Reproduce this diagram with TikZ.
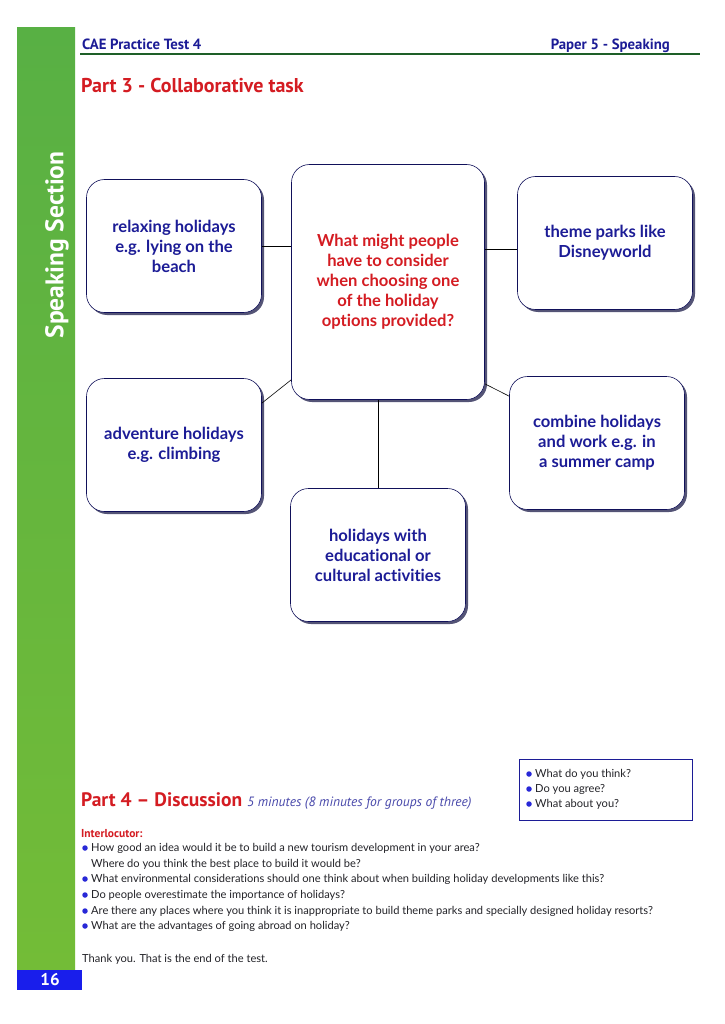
\documentclass[tikz,border=0pt]{standalone}
\usepackage{fontspec}
\setmainfont{Lato}[Ligatures={TeX,NoCommon}]
\newfontfamily\headfont{PT Sans}[Ligatures=TeX]
\usetikzlibrary{positioning, shadows}

\definecolor{boxblue}{RGB}{28,28,150}
\definecolor{taskred}{RGB}{212,28,34}
\definecolor{rulegreen}{RGB}{30,95,40}
\definecolor{numblue}{RGB}{25,30,235}
\definecolor{dotblue}{RGB}{40,40,215}
\definecolor{shadowgray}{RGB}{55,55,95}
\definecolor{bodygray}{RGB}{35,35,40}
\definecolor{sidetop}{RGB}{88,176,68}
\definecolor{sidemid}{RGB}{52,160,40}
\definecolor{sidebottom}{RGB}{115,188,55}

\tikzset{
  optionbox/.style={draw=boxblue!60!black, line width=0.6pt, rounded corners=18pt,
    fill=white, minimum width=175pt, minimum height=133pt, align=center,
    font=\fontsize{16.6}{20}\selectfont\bfseries, text=boxblue,
    drop shadow={shadow xshift=2.5pt, shadow yshift=-2.5pt, fill=shadowgray, opacity=0.85}},
  link/.style={draw=black, line width=0.6pt},
  bodytext/.style={anchor=base west, inner sep=0pt, text=bodygray, font=\fontsize{11.1}{13}\selectfont},
  bulletdot/.style={circle, fill=dotblue, inner sep=0pt, minimum size=5.5pt}
}

\begin{document}
\begin{tikzpicture}[x=1pt, y=-1pt]
  \useasboundingbox[fill=white] (0,0) rectangle (724,1024);

  % Side bar
  \shade[top color=sidetop, middle color=sidemid, bottom color=sidebottom]
    (17,28) rectangle (75,970);
  \fill[numblue] (17,970) rectangle (82,990);
  \node[text=white, font=\headfont\bfseries\fontsize{17}{17}\selectfont] (pagenum) at (50,980) {16};
  \node[rotate=90, text=white, font=\headfont\bfseries\fontsize{25.5}{25.5}\selectfont] (side) at (57,245) {Speaking Section};

  % Header
  \draw[rulegreen, line width=1.4pt] (80,54) -- (700,54);
  \node[anchor=base west, inner sep=0pt, text=boxblue, font=\headfont\bfseries\fontsize{14.8}{14.8}\selectfont] (test) at (82,50) {CAE Practice Test 4};
  \node[anchor=base east, inner sep=0pt, text=boxblue, font=\headfont\bfseries\fontsize{14.8}{14.8}\selectfont] (paper) at (670,50) {Paper 5 - Speaking};
  \node[anchor=base west, inner sep=0pt, text=taskred, font=\headfont\bfseries\fontsize{20}{20}\selectfont] (part3) at (81,93) {Part 3 - Collaborative task};

  % Collaborative task
  \node[optionbox, minimum width=193pt, minimum height=235pt, text=taskred] (centre) at (388,282)
    {What might people\\have to consider\\when choosing one\\of the holiday\\options provided?};
  \node[optionbox] (relax) at (174,246) {relaxing holidays\\e.g. lying on the\\beach};
  \node[optionbox] (theme) at (605,243) {theme parks like\\Disneyworld};
  \node[optionbox] (adventure) at (174,445) {adventure holidays\\e.g. climbing};
  \node[optionbox] (combine) at (597,443) {combine holidays\\and work e.g. in\\a summer camp};
  \node[optionbox] (culture) at (378,555) {holidays with\\educational or\\cultural activities};

  \draw[link] (relax.east) -- (relax.east -| centre.west);
  \draw[link] ([yshift=-6pt]theme.west -| centre.east) -- ([yshift=-6pt]theme.west);
  \draw[link] ([yshift=20pt]centre.south west) -- ([yshift=-25pt]adventure.north east);
  \draw[link] ([yshift=16pt]centre.south east) -- ([yshift=-20pt]combine.north west);
  \draw[link] (culture.north |- centre.south) -- (culture.north);

  % Part 4
  \node[anchor=base west, inner sep=0pt, font=\fontsize{19.5}{19.5}\selectfont] (part4) at (81,806)
    {\headfont\bfseries\color{taskred}Part 4 – Discussion\ {\fontsize{13.5}{13.5}\selectfont\mdseries\itshape\color{boxblue!80!white}5 minutes (8 minutes for groups of three)}};
  \node[draw=boxblue, line width=0.6pt, minimum width=173pt, minimum height=61pt] (prompts) at (605.5,789.5) {};
  \foreach \txt [count=\i] in {What do you think?, Do you agree?, What about you?} {
    \node[bulletdot] (pdot\i) at (529,{759+\i*15}) {};
    \node[bodytext, anchor=west] (prompt\i) at (535,{759+\i*15}) {\txt};
  }

  \node[anchor=base west, inner sep=0pt, text=taskred, font=\headfont\bfseries\fontsize{11.5}{13}\selectfont] (interloc) at (81,837) {Interlocutor:};
  \foreach \txt/\yy/\dot [count=\i] in {
      How good an idea would it be to build a new tourism development in your area?/848/1,
      Where do you think the best place to build it would be?/864/0,
      What environmental considerations should one think about when building holiday developments like this?/879/1,
      Do people overestimate the importance of holidays?/895/1,
      Are there any places where you think it is inappropriate to build theme parks and specially designed holiday resorts?/911/1,
      What are the advantages of going abroad on holiday?/926/1} {
    \node[bodytext, anchor=west] (question\i) at (91,\yy) {\txt};
    \ifnum\dot=1 \node[bulletdot] (qdot\i) at (85,\yy) {}; \fi
  }
  \node[bodytext] (thanks) at (82,962) {Thank you. That is the end of the test.};
\end{tikzpicture}
\end{document}
